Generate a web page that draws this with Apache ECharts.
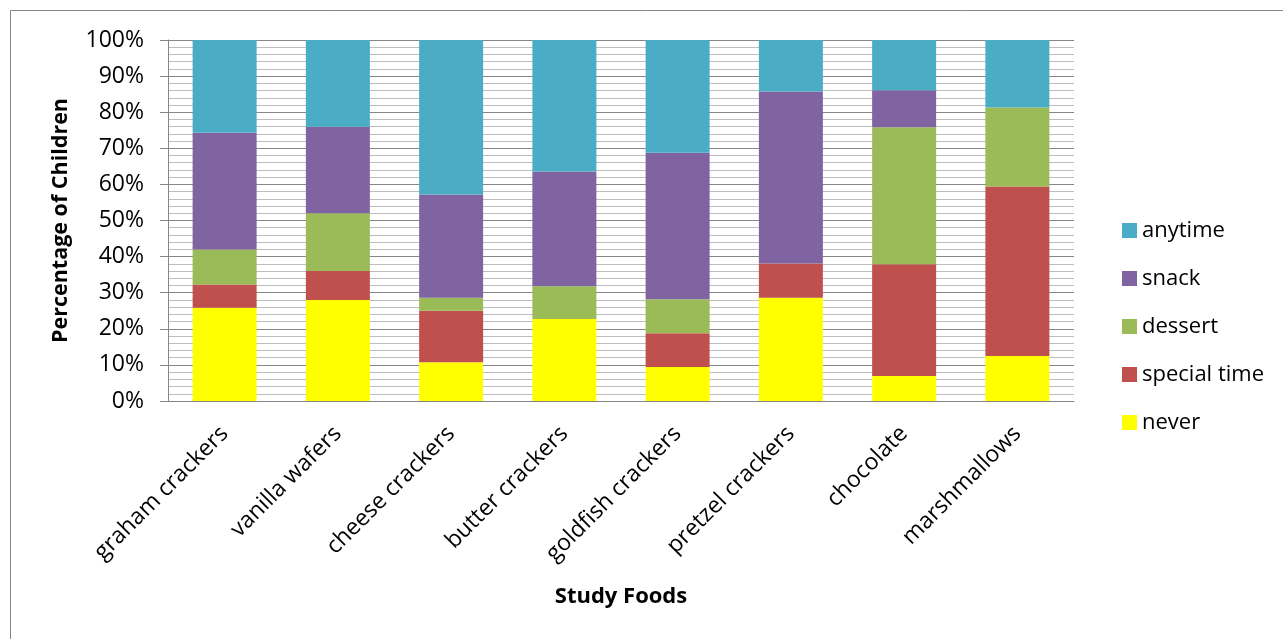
<!DOCTYPE html>
<html>
<head>
<meta charset="utf-8">
<script src="https://cdn.jsdelivr.net/npm/echarts@6/dist/echarts.min.js"></script>
<style>
html,body{margin:0;padding:0;background:#fff;}
#chart{width:1283px;height:639px;}
</style>
</head>
<body>
<div id="chart"></div>
<script>
const categories = ['graham crackers','vanilla wafers','cheese crackers','butter crackers','goldfish crackers','pretzel crackers','chocolate','marshmallows'];
const never = [25.8, 28.0, 10.7, 22.7, 9.4, 28.6, 6.9, 12.5];
const specialTime = [6.5, 8.0, 14.3, 0, 9.4, 9.5, 31.0, 46.9];
const dessert = [9.7, 16.0, 3.6, 9.1, 9.4, 0, 37.9, 21.9];
const snack = [32.3, 24.0, 28.6, 31.8, 40.6, 47.6, 10.3, 0];
const anytime = [25.7, 24.0, 42.8, 36.4, 31.2, 14.3, 13.9, 18.7];
const yTicks = [0,10,20,30,40,50,60,70,80,90,100];

const FONT = '"Open Sans", sans-serif';
const chart = echarts.init(document.getElementById('chart'));

const seriesDefs = [
  {name:'never', data:never, color:'#ffff00'},
  {name:'special time', data:specialTime, color:'#c0504d'},
  {name:'dessert', data:dessert, color:'#9bbb59'},
  {name:'snack', data:snack, color:'#8064a2'},
  {name:'anytime', data:anytime, color:'#4bacc6'}
];

chart.setOption({
  animation:false,
  textStyle:{fontFamily:FONT},
  graphic:[{
    type:'rect', shape:{x:10.5,y:10.5,width:1300,height:700},
    style:{fill:null, stroke:'#868686', lineWidth:1}, silent:true
  }],
  grid:{left:168, right:209, top:40, bottom:238, containLabel:false},
  legend:{
    orient:'vertical', left:1117, top:210,
    itemWidth:15, itemHeight:15, itemGap:17,
    icon:'rect',
    data:['anytime','snack','dessert','special time','never'],
    textStyle:{fontFamily:FONT, fontSize:22, lineHeight:31, color:'#000'}
  },
  xAxis:{
    type:'category', data:categories,
    name:'Study Foods', nameLocation:'middle', nameGap:185,
    nameTextStyle:{fontFamily:FONT, fontSize:22, fontWeight:'bold', color:'#000'},
    axisLine:{lineStyle:{color:'#868686'}},
    axisTick:{show:false},
    axisLabel:{rotate:45, margin:29, fontFamily:FONT, fontSize:23, color:'#000', interval:0},
    splitLine:{show:false}
  },
  yAxis:{
    type:'value', min:0, max:100, interval:10,
    name:'Percentage of Children', nameLocation:'middle', nameGap:96,
    nameTextStyle:{fontFamily:FONT, fontSize:21.5, fontWeight:'bold', color:'#000'},
    axisLine:{show:true, lineStyle:{color:'#868686'}},
    axisTick:{show:true, length:8, inside:false, lineStyle:{color:'#868686'}},
    axisLabel:{margin:24, fontFamily:FONT, fontSize:23, color:'#000',
      formatter:function(v){ return yTicks.indexOf(v) >= 0 ? v + '%' : ''; }},
    splitLine:{show:true, lineStyle:{color:'#868686', width:1}},
    minorTick:{show:false, splitNumber:5},
    minorSplitLine:{show:true, lineStyle:{color:'#bdbdbd', width:1}}
  },
  series: seriesDefs.map(function(s){
    return {
      name:s.name, type:'bar', stack:'total', data:s.data,
      barWidth:64, itemStyle:{color:s.color},
      emphasis:{disabled:true}
    };
  })
});
</script>
</body>
</html>
